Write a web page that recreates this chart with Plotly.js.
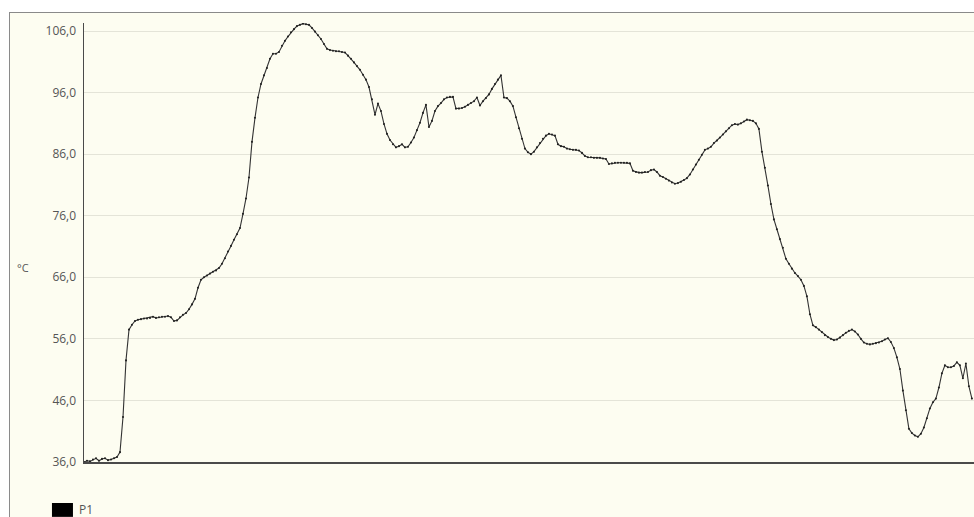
<!DOCTYPE html>
<html>
<head>
<meta charset="utf-8">
<script src="https://cdn.plot.ly/plotly-3.0.1.min.js"></script>
<style>
  html, body { margin: 0; padding: 0; background: #ffffff; overflow: hidden; }
  #frame {
    position: absolute; left: 9px; top: 12px;
    width: 965px; height: 505px;
    border-left: 1px solid #8a8a8a; border-top: 1px solid #8a8a8a;
    background: #fdfdf1;
  }
</style>
</head>
<body>
<div id="frame"><div id="chart" style="width:965px;height:505px;"></div></div>
<script>
// Temperature log for probe P1, one reading per sample
const seriesName = "P1";
const unitLabel = "°C";

const temps = [
  36.0, 36.2, 36.1, 36.4, 36.6, 36.2, 36.5, 36.6, 36.3, 36.4,
  36.6, 36.8, 37.6, 43.3, 52.5, 57.5, 58.3, 58.9, 59.1, 59.2,
  59.3, 59.3, 59.4, 59.6, 59.4, 59.5, 59.6, 59.6, 59.7, 59.5,
  58.9, 59.0, 59.5, 59.9, 60.2, 60.8, 61.6, 62.5, 64.3, 65.6,
  66.0, 66.3, 66.6, 66.9, 67.1, 67.5, 68.2, 69.1, 70.2, 71.1,
  72.1, 73.0, 74.0, 76.3, 78.8, 82.2, 88.0, 91.9, 95.2, 97.4,
  98.8, 100.0, 101.5, 102.3, 102.3, 102.6, 103.6, 104.4, 105.1, 105.8,
  106.3, 106.8, 107.0, 107.2, 107.1, 107.0, 106.5, 105.9, 105.3, 104.7,
  103.9, 103.1, 102.9, 102.8, 102.7, 102.7, 102.6, 102.5, 102.0, 101.5,
  100.9, 100.3, 99.7, 98.9, 98.1, 96.9, 94.9, 92.4, 94.2, 93.0,
  90.9, 89.3, 88.3, 87.6, 87.1, 87.3, 87.6, 87.1, 87.2, 87.9,
  88.7, 89.9, 91.1, 92.7, 94.0, 90.4, 91.4, 93.0, 93.8, 94.3,
  94.9, 95.2, 95.3, 95.3, 93.4, 93.4, 93.5, 93.7, 94.0, 94.3,
  94.6, 95.2, 93.9, 94.6, 95.1, 95.7, 96.6, 97.4, 98.1, 98.8,
  95.2, 95.1, 94.6, 93.8, 92.0, 90.2, 88.5, 86.9, 86.3, 86.0,
  86.4, 87.1, 87.8, 88.5, 89.0, 89.3, 89.2, 89.0, 87.6, 87.3,
  87.2, 86.9, 86.8, 86.7, 86.7, 86.6, 86.2, 85.7, 85.5, 85.5,
  85.4, 85.4, 85.4, 85.3, 85.2, 84.4, 84.5, 84.6, 84.6, 84.6,
  84.6, 84.6, 84.5, 83.3, 83.1, 83.0, 83.0, 83.1, 83.1, 83.4,
  83.5, 83.1, 82.5, 82.3, 82.0, 81.7, 81.4, 81.2, 81.3, 81.5,
  81.8, 82.1, 82.7, 83.5, 84.3, 85.1, 85.9, 86.7, 86.9, 87.2,
  87.8, 88.2, 88.7, 89.2, 89.7, 90.2, 90.7, 90.9, 90.8, 91.0,
  91.3, 91.6, 91.5, 91.4, 91.0, 90.1, 86.4, 83.8, 80.9, 77.9,
  75.4, 73.8, 72.2, 70.8, 69.0, 68.2, 67.4, 66.7, 66.2, 65.6,
  64.6, 62.9, 60.0, 58.2, 57.9, 57.5, 57.1, 56.6, 56.3, 56.0,
  55.8, 55.9, 56.2, 56.6, 57.0, 57.3, 57.5, 57.2, 56.7, 56.0,
  55.4, 55.2, 55.1, 55.2, 55.3, 55.4, 55.6, 55.9, 56.1, 55.5,
  54.5, 53.0, 51.1, 47.6, 44.4, 41.4, 40.7, 40.3, 40.1, 40.6,
  41.6, 43.1, 44.7, 45.7, 46.3, 48.1, 50.4, 51.7, 51.4, 51.4,
  51.6, 52.2, 51.7, 49.6, 52.0, 48.3, 46.3
];
const samples = temps.map((_, i) => i);

const tickValues = [36, 46, 56, 66, 76, 86, 96, 106];

const trace = {
  x: samples,
  y: temps,
  type: "scatter",
  mode: "lines+markers",
  name: seriesName,
  line: { color: "#333333", width: 1.1 },
  marker: { color: "#222222", size: 2.1 },
  showlegend: false,
  hoverinfo: "skip"
};

const layout = {
  width: 965,
  height: 505,
  margin: { l: 74, r: 1, t: 10, b: 56 },
  paper_bgcolor: "rgba(0,0,0,0)",
  plot_bgcolor: "#fdfdf1",
  separators: ",.",
  font: { family: "Open Sans, Noto Sans, sans-serif", size: 12, color: "#555555" },
  xaxis: {
    range: [0, samples.length - 0.3],
    showgrid: false,
    zeroline: false,
    showticklabels: false,
    ticks: "",
    showline: true,
    linecolor: "#4a4a4a",
    linewidth: 2
  },
  yaxis: {
    range: [36, 107.3],
    tickvals: tickValues,
    tickformat: ".1f",
    showgrid: true,
    gridcolor: "#e4e4d8",
    gridwidth: 1,
    zeroline: false,
    ticks: "",
    ticklabelstandoff: 4,
    showline: true,
    linecolor: "#4a4a4a",
    linewidth: 1.5,
    tickfont: { size: 12, color: "#555555" }
  },
  shapes: [
    {
      type: "rect", xref: "paper", yref: "paper",
      x0: -0.036, x1: -0.0124, y0: -0.125, y1: -0.0934,
      fillcolor: "#000000", line: { width: 0 }
    }
  ],
  annotations: [
    {
      text: seriesName, xref: "paper", yref: "paper",
      x: -0.008, y: -0.109, xanchor: "left", yanchor: "middle",
      showarrow: false, font: { size: 12, color: "#555555" }
    },
    {
      text: unitLabel, xref: "paper", yref: "paper",
      x: -0.0775, y: 0.442, xanchor: "left", yanchor: "middle",
      showarrow: false, font: { size: 11, color: "#555555" }
    }
  ]
};

Plotly.newPlot("chart", [trace], layout, { displayModeBar: false, staticPlot: true });
</script>
</body>
</html>
